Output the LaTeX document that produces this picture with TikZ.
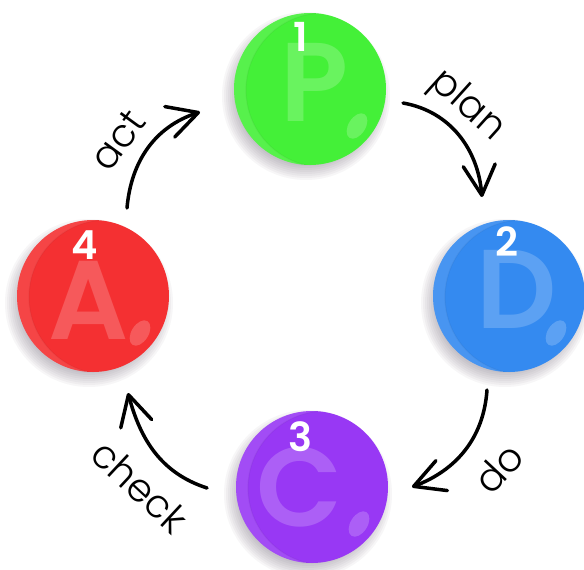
\documentclass[tikz,border=0pt]{standalone}
\usepackage{fontspec}
\setmainfont{Poppins}
\newfontfamily\labelfont{Poppins Light}
\newfontfamily\letterfont{Poppins SemiBold}
\newfontfamily\numberfont{Poppins SemiBold}
\usetikzlibrary{arrows.meta}

\definecolor{gGreen}{RGB}{68,240,56}
\definecolor{gBlue}{RGB}{52,138,240}
\definecolor{gPurple}{RGB}{152,56,244}
\definecolor{gRed}{RGB}{244,48,50}
\definecolor{shadowgray}{RGB}{70,60,80}

\tikzset{
  ball/.style={circle, minimum size=152pt, inner sep=0pt, draw=none},
  bigletter/.style={font=\letterfont\fontsize{112}{112}\selectfont, text=white, text opacity=0.2, inner sep=0pt},
  stepnum/.style={font=\numberfont\fontsize{40}{40}\selectfont, text=white, inner sep=0pt},
  lbl/.style={font=\labelfont\fontsize{39}{39}\selectfont, inner sep=0pt},
  conn/.style={line width=3.5pt, line cap=round, draw=black,
    -{Straight Barb[length=30pt,width=32pt,line cap=round,line join=round]}}
}

\begin{document}
\begin{tikzpicture}[x=1pt,y=1pt]
\useasboundingbox (0,0) rectangle (584,-570);
\fill[white] (0,0) rectangle (584,-570);

% the four stages: name/x/y/colour/letter/number/letter offset/number offset
\foreach \n/\x/\y/\c/\L/\num/\lx/\ly/\nx/\ny in {
  P/310/-89/gGreen/P/1/5/7/-9/52,
  D/509/-296/gBlue/D/2/8/7/-2/54,
  C/312/-487/gPurple/C/3/-12/0/-12/50,
  A/93/-296/gRed/A/4/-4/-4/-8/51}{
  % soft drop shadow
  \foreach \k in {0,...,7}
    \fill[shadowgray, opacity=0.045] (\x-4,\y-7) circle[radius=84-2*\k];
  \node[ball, fill=\c] (\n) at (\x,\y) {};
  % lighter crescent on the left rim
  \begin{scope}
    \clip (\n.center) circle[radius=76];
    \fill[white, opacity=0.1, even odd rule]
      (\n.center) circle[radius=76] (\x+13,\y-1) circle[radius=77];
    \draw[black, opacity=0.04, line width=1.2pt] (\x+13,\y-1) circle[radius=77];
  \end{scope}
  % glossy spot at lower right
  \begin{scope}[shift={(\x+47,\y-37)}, rotate=58]
    \fill[white, opacity=0.2] (0,0) ellipse[x radius=14, y radius=8.5];
  \end{scope}
  \node[bigletter] (\n-letter) at (\x+\lx,\y+\ly) {\L};
  \node[stepnum] (\n-num) at (\x+\nx,\y+\ny) {\num};
}

% arrow end points
\coordinate (planS) at (403,-103);  \coordinate (planE) at (482,-197);
\coordinate (doS)   at (487,-390);  \coordinate (doE)   at (412,-487);
\coordinate (chkS)  at (207,-488);  \coordinate (chkE)  at (128,-393);
\coordinate (actS)  at (127,-208);  \coordinate (actE)  at (200,-112);

\draw[conn] (planS) to[out=-10,in=95]  (planE);
\draw[conn] (doS)   to[out=-94,in=21]  (doE);
\draw[conn] (chkS)  to[out=162,in=-75] (chkE);
\draw[conn] (actS)  to[out=85,in=198]  (actE);

\node[lbl, rotate=-42] (tplan)  at (467,-106) {plan};
\node[lbl, rotate=47]  (tdo)    at (499,-468) {do};
\node[lbl, rotate=-43] (tcheck) at (140,-486) {check};
\node[lbl, rotate=54]  (tact)   at (118,-140) {act};
\end{tikzpicture}
\end{document}
